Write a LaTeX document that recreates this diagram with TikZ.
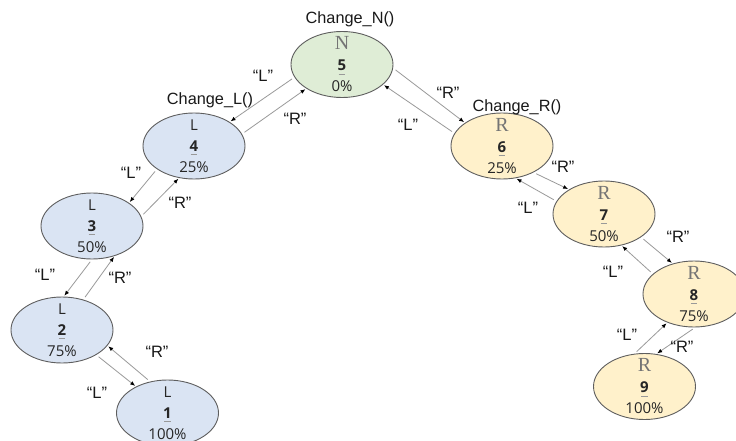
\documentclass[tikz,border=0pt]{standalone}
\usepackage{fontspec}
\setmainfont{Liberation Sans}
\newfontfamily\statefont{Open Sans}
\newfontfamily\letterserif{Liberation Serif}
\usetikzlibrary{shapes.geometric,arrows.meta}

\definecolor{nfill}{HTML}{DFEDD6}
\definecolor{lfill}{HTML}{DAE4F3}
\definecolor{rfill}{HTML}{FFF1CB}
\definecolor{edgegray}{HTML}{5E5E5E}
\definecolor{linkgray}{HTML}{9A9A9A}
\definecolor{lettergray}{HTML}{747474}

% bold state number with a thin grey bar beneath it
\newcommand\numul[1]{\setbox0=\hbox{\bfseries #1}\leavevmode
  \rlap{\kern0.1\wd0\raisebox{-3.8pt}{\color{gray!80}\rule{0.8\wd0}{0.8pt}}}\box0}
\newcommand\serifL[1]{{\letterserif\fontsize{20}{21}\selectfont\color{lettergray}#1}}

% one state: ellipse plus its three-line text
\newcommand\mkstate[6]{%
  \node[stateshape,#3] (#1) at (#2) {};
  \node[statetext] (#1-txt) at (#1.center) {#4\\\numul{#5}\\#6};
}

\tikzset{
  stateshape/.style={ellipse, draw=edgegray, line width=0.9pt,
    minimum width=102pt, minimum height=66pt, inner sep=0pt},
  nstate/.style={fill=nfill},
  lstate/.style={fill=lfill},
  rstate/.style={fill=rfill},
  statetext/.style={font=\statefont\fontsize{15}{21}\selectfont,
    align=center, inner sep=0pt, text=black!85},
  conn/.style={draw=linkgray, line width=0.8pt,
    -{Latex[length=5pt,width=4pt,color=black]},
    shorten <=3pt, shorten >=1pt},
  quote/.style={font=\fontsize{16.5}{19}\selectfont, inner sep=0pt, text=black!90},
  title/.style={font=\fontsize{16.3}{19}\selectfont, inner sep=0pt, text=black!90},
}

\begin{document}
\begin{tikzpicture}[x=1pt,y=-1pt]
\path[use as bounding box, fill=white] (0,0) rectangle (736,441);

% states
\mkstate{n5}{342,64.5}{nstate}{\serifL{N}}{5}{0\%}
\mkstate{l4}{194,146}{lstate}{L}{4}{25\%}
\mkstate{l3}{92,226}{lstate}{L}{3}{50\%}
\mkstate{l2}{62,330}{lstate}{L}{2}{75\%}
\mkstate{l1}{167.5,413}{lstate}{L}{1}{100\%}
\mkstate{r6}{502,146}{rstate}{\serifL{R}}{6}{25\%}
\mkstate{r7}{604,214}{rstate}{\serifL{R}}{7}{50\%}
\mkstate{r8}{694,294}{rstate}{\serifL{R}}{8}{75\%}
\mkstate{r9}{644.5,386.5}{rstate}{\serifL{R}}{9}{100\%}

% function names
\node[title] (tn) at (350,19) {Change\_N()};
\node[title] (tl) at (210,100) {Change\_L()};
\node[title] (tr) at (517,107) {Change\_R()};

% transitions, left branch
\draw[conn] (n5.195) -- (l4.34);
\draw[conn] (l4.14) -- (n5.214);
\draw[conn] (l4.212) -- (l3.32);
\draw[conn] (l3.11) -- (l4.245);
\draw[conn] (l3.270) -- (l2.87);
\draw[conn] (l2.55) -- (l3.307);
\draw[conn] (l2.324) -- (l1.140);
\draw[conn] (l1.119) -- (l2.341);

% transitions, right branch
\draw[conn] (n5.356) -- (r6.148);
\draw[conn] (r6.165) -- (n5.334);
\draw[conn] (r6.320) -- (r7.145);
\draw[conn] (r7.165) -- (r6.293);
\draw[conn] (r7.328) -- (r8.125);
\draw[conn] (r8.154) -- (r7.299);
\draw[conn] (r9.107) -- (r8.227);
\draw[conn] (r8.272) -- (r9.70);

% transition labels
\node[quote] (q1) at (263,76) {“L”};
\node[quote] (q2) at (295,119) {“R”};
\node[quote] (q3) at (131,173) {“L”};
\node[quote] (q4) at (180,203) {“R”};
\node[quote] (q5) at (45,275) {“L”};
\node[quote] (q6) at (120,278) {“R”};
\node[quote] (q7) at (97,393) {“L”};
\node[quote] (q8) at (157,352) {“R”};
\node[quote] (q9) at (448,93) {“R”};
\node[quote] (q10) at (408,125) {“L”};
\node[quote] (q11) at (563,167) {“R”};
\node[quote] (q12) at (528,208) {“L”};
\node[quote] (q13) at (678,237) {“R”};
\node[quote] (q14) at (613,272) {“L”};
\node[quote] (q15) at (627,335) {“L”};
\node[quote] (q16) at (682,347) {“R”};
\end{tikzpicture}
\end{document}
